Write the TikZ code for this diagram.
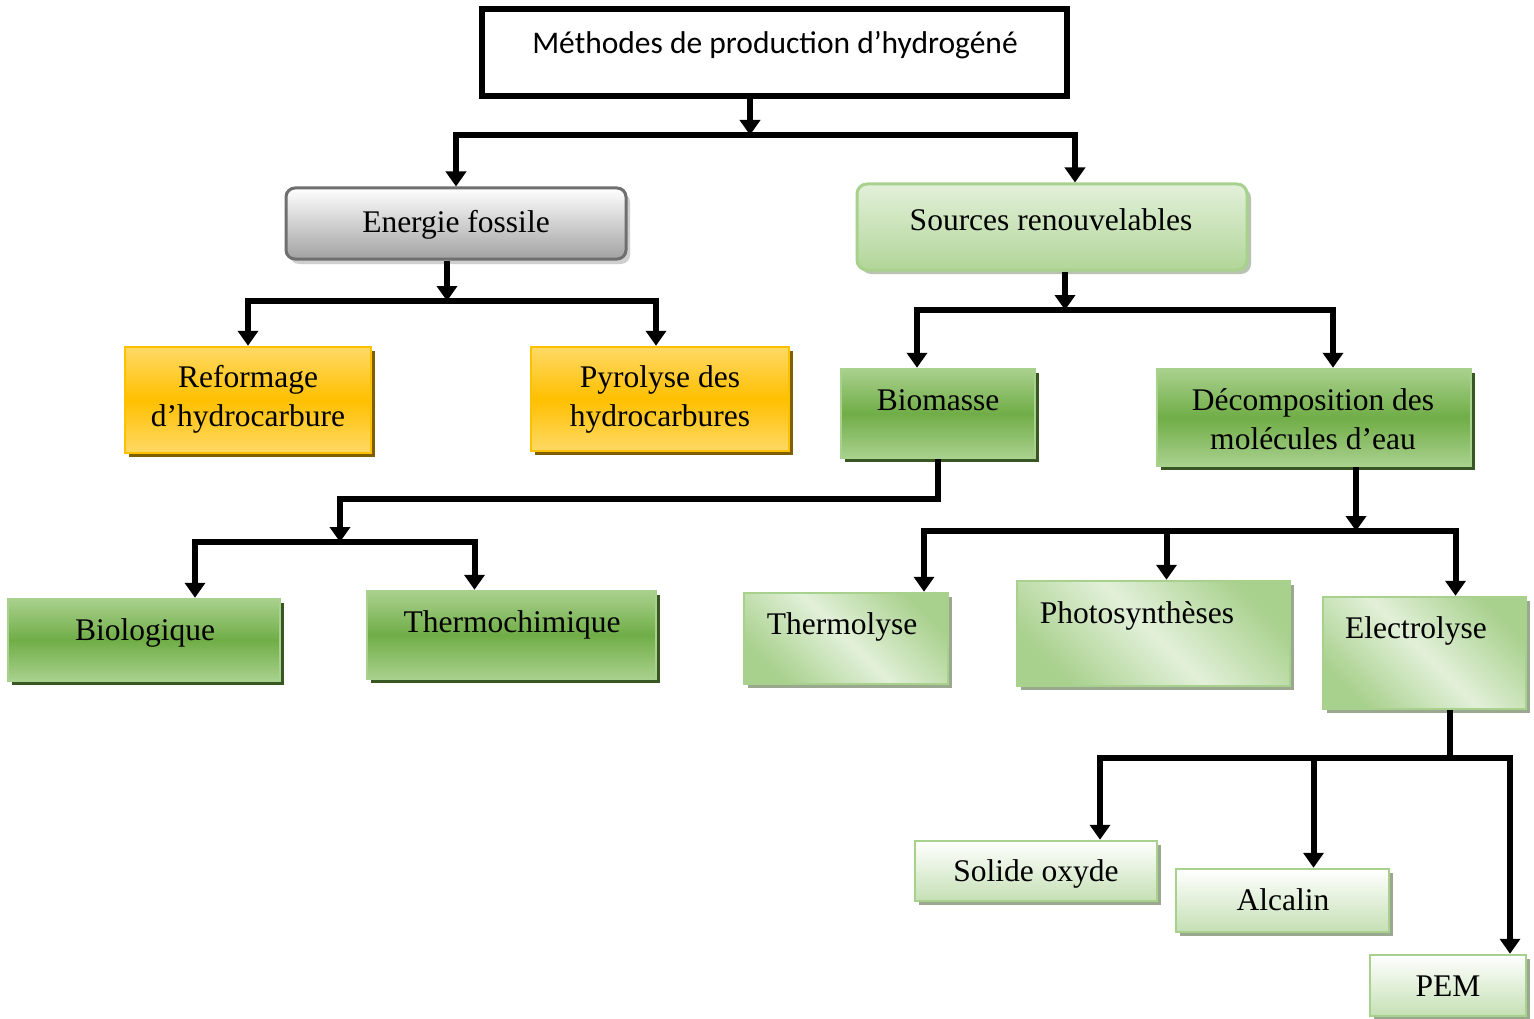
\documentclass[tikz,border=0pt]{standalone}
\usepackage{fontspec}
\setmainfont{Liberation Serif}
\newfontfamily\titlefont{Carlito}
\usetikzlibrary{arrows.meta,shadows}
\definecolor{gborder}{HTML}{6F6F6F}
\definecolor{gbot}{HTML}{A2A2A2}
\definecolor{gshadow}{HTML}{CFCFCF}
\definecolor{ylight}{HTML}{FFD966}
\definecolor{ymid}{HTML}{FFC000}
\definecolor{yshadow}{HTML}{7F6000}
\definecolor{glight}{HTML}{A9D18E}
\definecolor{gmid}{HTML}{70AD47}
\definecolor{gshadowd}{HTML}{385723}
\definecolor{lgpale}{HTML}{E2F0D9}
\definecolor{lgsoft}{HTML}{C5E0B4}
\definecolor{lgshadow}{HTML}{9AA88F}
\tikzset{
  ln/.style={line width=6pt, black},
  arr/.style={ln, -{Triangle[width=20pt,length=15pt]}},
  boxbase/.style={rectangle, inner sep=0pt},
  titlebox/.style={boxbase, draw=black, line width=6pt, fill=white},
  graybox/.style={boxbase, rounded corners=9pt, draw=gborder, line width=3pt,
    top color=white, bottom color=gbot,
    drop shadow={shadow xshift=4pt, shadow yshift=-5pt, fill=gshadow, opacity=1}},
  srcbox/.style={boxbase, rounded corners=10pt, draw=glight, line width=3pt,
    top color=lgpale, bottom color=glight!85!lgpale,
    drop shadow={shadow xshift=4pt, shadow yshift=-4pt, fill=lgshadow!70!white, opacity=1}},
  yelbox/.style={boxbase, draw=ymid, line width=2.5pt,
    top color=ylight, bottom color=ylight, middle color=ymid,
    drop shadow={shadow xshift=4pt, shadow yshift=-4pt, fill=yshadow, opacity=1}},
  grnbox/.style={boxbase, draw=glight, line width=2.5pt,
    top color=glight, bottom color=glight, middle color=gmid,
    drop shadow={shadow xshift=4pt, shadow yshift=-4pt, fill=gshadowd, opacity=1}},
  diagbox/.style={boxbase, draw=glight, line width=2.5pt,
    left color=glight, right color=glight, middle color=lgpale, shading angle=135,
    drop shadow={shadow xshift=4pt, shadow yshift=-4pt, fill=lgshadow, opacity=1}},
  palebox/.style={boxbase, draw=glight, line width=2.5pt,
    top color=white, bottom color=lgsoft,
    drop shadow={shadow xshift=4pt, shadow yshift=-4pt, fill=lgshadow, opacity=1}},
  lbl/.style={font=\fontsize{31.5}{39}\selectfont, inner sep=0pt, anchor=base, align=center},
}
\begin{document}
\begin{tikzpicture}[x=1pt,y=-1pt]
\useasboundingbox (0,0) rectangle (1534,1019);
\fill[white] (0,0) rectangle (1534,1019);

% boxes
\node[titlebox, minimum width=585pt, minimum height=87pt] (title) at (774.5,52.5) {};
\node[lbl, font=\titlefont\fontsize{31.5}{38}\selectfont] (title-t) at (775,54) {Méthodes de production d’hydrogéné};

\node[graybox, minimum width=340pt, minimum height=71pt] (ef) at (456,223.5) {};
\node[lbl] (ef-t) at (456,233) {Energie fossile};

\node[srcbox, minimum width=390pt, minimum height=86pt] (sr) at (1052,227) {};
\node[lbl] (sr-t) at (1051,230) {Sources renouvelables};

\node[yelbox, minimum width=246pt, minimum height=106pt] (ref) at (248,400) {};
\node[lbl] (ref-t1) at (248,387) {Reformage};
\node[lbl] (ref-t2) at (248,426) {d’hydrocarbure};

\node[yelbox, minimum width=258pt, minimum height=104pt] (pyr) at (660,399) {};
\node[lbl] (pyr-t1) at (660,387) {Pyrolyse des};
\node[lbl] (pyr-t2) at (660,426) {hydrocarbures};

\node[grnbox, minimum width=194pt, minimum height=89pt] (bio) at (938,413.5) {};
\node[lbl] (bio-t) at (938,410) {Biomasse};

\node[grnbox, minimum width=314pt, minimum height=97pt] (dec) at (1314,417.5) {};
\node[lbl] (dec-t1) at (1313,410) {Décomposition des};
\node[lbl] (dec-t2) at (1313,449) {molécules d’eau};

\node[grnbox, minimum width=272pt, minimum height=82pt] (biol) at (144,640) {};
\node[lbl] (biol-t) at (145,640) {Biologique};

\node[grnbox, minimum width=289pt, minimum height=88pt] (thc) at (511.5,635) {};
\node[lbl] (thc-t) at (512,632) {Thermochimique};

\node[diagbox, minimum width=204pt, minimum height=91pt] (thl) at (846,638.5) {};
\node[lbl] (thl-t) at (842,634) {Thermolyse};

\node[diagbox, minimum width=273pt, minimum height=105pt] (pho) at (1153.5,633.5) {};
\node[lbl] (pho-t) at (1137,623) {Photosynthèses};

\node[diagbox, minimum width=203pt, minimum height=112pt] (ele) at (1424.5,653) {};
\node[lbl] (ele-t) at (1416,638) {Electrolyse};

\node[palebox, minimum width=242pt, minimum height=60pt] (sol) at (1036,871) {};
\node[lbl] (sol-t) at (1036,881) {Solide oxyde};

\node[palebox, minimum width=213pt, minimum height=63pt] (alc) at (1282.5,900.5) {};
\node[lbl] (alc-t) at (1283,910) {Alcalin};

\node[palebox, minimum width=156pt, minimum height=61pt] (pem) at (1448,985.5) {};
\node[lbl] (pem-t) at (1448,996) {PEM};

% connectors
\coordinate (j1) at (750,135);
\draw[arr] (title.south -| j1) -- (j1);
\draw[arr] (j1) -| (ef.north);
\draw[arr] (j1) -| ([xshift=23pt]sr.north);

\coordinate (j2) at (447,301);
\draw[arr] (ef.south -| j2) -- (j2);
\draw[arr] (j2) -| (ref.north);
\draw[arr] (j2) -| ([xshift=-4pt]pyr.north);

\coordinate (j3) at (1065,310);
\draw[arr] (sr.south -| j3) -- (j3);
\draw[arr] (j3) -| ([xshift=-21pt]bio.north);
\draw[arr] (j3) -| ([xshift=19pt]dec.north);

\coordinate (k4) at (340,499);
\coordinate (j4) at (340,542);
\draw[arr] (bio.south) |- (k4) -- (j4);
\draw[arr] (j4) -| ([xshift=51pt]biol.north);
\draw[arr] (j4) -| ([xshift=-37pt]thc.north);

\coordinate (j5) at (1356,531);
\draw[arr] (dec.south -| j5) -- (j5);
\draw[arr] (j5) -| ([xshift=78pt]thl.north);
\draw[arr] (j5) -| ([xshift=13pt]pho.north);
\draw[arr] (j5) -| ([xshift=31pt]ele.north);

\coordinate (j6) at (1450,758);
\draw[ln] (ele.south -| j6) -- (j6);
\draw[arr] (j6) -| ([xshift=64pt]sol.north);
\draw[arr] (j6) -| ([xshift=31pt]alc.north);
\draw[arr] (j6) -| ([xshift=62pt]pem.north);
\end{tikzpicture}
\end{document}
